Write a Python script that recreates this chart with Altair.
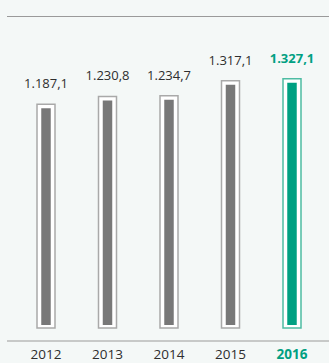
import altair as alt
import pandas as pd

# Annual values (in the style 1.187,1)
years = ["2012", "2013", "2014", "2015", "2016"]
values = [1187.1, 1230.8, 1234.7, 1317.1, 1327.1]
labels = ["1.187,1", "1.230,8", "1.234,7", "1.317,1", "1.327,1"]
highlight = [False, False, False, False, True]

GRAY = "#787878"
GRAY_EDGE = "#a9a9a9"
GREEN = "#00a082"
GREEN_EDGE = "#4dbca3"
TEXT = "#2e2e2e"
BG = "#f4f8f7"
FONT = "Open Sans"

df = pd.DataFrame({
    "year": years,
    "value": values,
    "label": labels,
    "hl": highlight,
})

x = alt.X("year:N", scale=alt.Scale(type="point", range=[46, 292], padding=0),
          axis=None)
yscale = alt.Scale(domain=[0, 1327.1], range=[325, 82.8])
y = alt.Y("value:Q", scale=yscale, axis=None)

base = alt.Chart(df)

# white frame around each bar
frame = base.mark_bar(
    size=18, fill="white", strokeWidth=1.5, yOffset=-4, y2Offset=3
).encode(
    x=x,
    y=y,
    y2=alt.datum(0),
    stroke=alt.condition("datum.hl", alt.value(GREEN_EDGE), alt.value(GRAY_EDGE)),
)

bars = base.mark_bar(size=9.5).encode(
    x=x,
    y=y,
    y2=alt.datum(0),
    fill=alt.condition("datum.hl", alt.value(GREEN), alt.value(GRAY)),
)


def texts(weight, color, flt):
    sub = base.transform_filter(flt)
    vals = sub.mark_text(
        font=FONT, fontSize=13, baseline="middle", dy=-24,
        fontWeight=weight, color=color,
    ).encode(x=x, y=y, text="label:N")
    yrs = sub.mark_text(
        font=FONT, fontSize=13.5, baseline="middle",
        fontWeight=weight, color=color,
    ).encode(x=x, y=alt.value(355), text="year:N")
    return vals + yrs


plain_text = texts("normal", TEXT, "!datum.hl")
bold_text = texts("bold", GREEN, "datum.hl")

# horizontal separator lines at the top and along the base
rules = alt.Chart(pd.DataFrame({"py": [16.5, 341]})).mark_rule(
    color="#9a9a9a", strokeWidth=1.2
).encode(
    x=alt.value(7), x2=alt.value(329),
    y=alt.Y("py:Q", scale=None, axis=None),
)

chart = (
    alt.layer(rules, frame, bars, plain_text, bold_text)
    .properties(width=329, height=363, background=BG, padding=0,
                autosize=alt.AutoSizeParams(type="none"))
    .configure_view(stroke=None)
)

chart.save("out.html", embed_options={"renderer": "svg", "actions": False})
